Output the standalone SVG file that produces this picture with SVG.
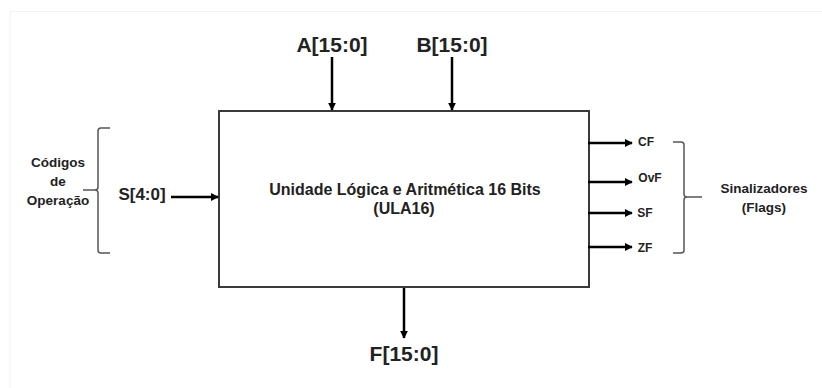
<svg xmlns="http://www.w3.org/2000/svg" width="822" height="388" viewBox="0 0 822 388">
<defs>
<style>
.t{font-family:"Liberation Sans",Arial,sans-serif;font-weight:bold;fill:#222;text-anchor:middle}
.w{stroke:#000;stroke-width:2.5;fill:none}
.b{stroke:#555;stroke-width:1.5;fill:none}
</style>
<marker id="ah" viewBox="0 0 10 10" refX="9" refY="5" markerWidth="3.2" markerHeight="3.2" orient="auto" markerUnits="strokeWidth">
<path d="M0,0 L10,5 L0,10 z" fill="#000"/>
</marker>
</defs>
<rect width="822" height="388" fill="#fff"/>
<path d="M10,388 L10,11.5 L822,11.5" stroke="#f2f2f2" stroke-width="1" fill="none"/>
<g id="alu">
<rect x="219" y="111" width="370" height="176" fill="#fff" stroke="#3a3a3a" stroke-width="2"/>
<text class="t" x="405" y="195" font-size="16">Unidade Lógica e Aritmética 16 Bits</text>
<text class="t" x="404" y="214" font-size="16">(ULA16)</text>
</g>
<g id="inA"><text class="t" x="332" y="52" font-size="21">A[15:0]</text></g>
<g id="inB"><text class="t" x="452" y="52" font-size="21">B[15:0]</text></g>
<g id="outF"><text class="t" x="404" y="361" font-size="21">F[15:0]</text></g>
<g id="inS"><text class="t" x="142" y="200" font-size="17">S[4:0]</text></g>
<g id="opcodes">
<path class="b" d="M110,128 L101,128 Q98,128 98,131 L98,187 Q98,190 95,190 L83,190 M95,190 Q98,190 98,193 L98,250 Q98,253 101,253 L110,253"/>
<text class="t" x="58" y="167" font-size="13.5">Códigos</text>
<text class="t" x="58" y="186" font-size="13.5">de</text>
<text class="t" x="58" y="205" font-size="13.5">Operação</text>
</g>
<g id="flags">
<text class="t" x="646" y="146" font-size="12">CF</text>
<text class="t" x="650" y="182" font-size="12">OvF</text>
<text class="t" x="645" y="217" font-size="12">SF</text>
<text class="t" x="645" y="252" font-size="12">ZF</text>
<path class="b" d="M673,142 L681,142 Q684,142 684,145 L684,194 Q684,197 687,197 L702,197 M687,197 Q684,197 684,200 L684,250 Q684,253 681,253 L673,253"/>
<text class="t" x="764" y="193" font-size="13.5">Sinalizadores</text>
<text class="t" x="764" y="212" font-size="13.5">(Flags)</text>
</g>
<g id="connectors">
<line class="w" x1="332" y1="57" x2="332" y2="110" marker-end="url(#ah)"/>
<line class="w" x1="452" y1="57" x2="452" y2="110" marker-end="url(#ah)"/>
<line class="w" x1="404" y1="288" x2="404" y2="338" marker-end="url(#ah)"/>
<line class="w" x1="171" y1="197" x2="218" y2="197" marker-end="url(#ah)"/>
<line class="w" x1="588" y1="143" x2="632" y2="143" marker-end="url(#ah)"/>
<line class="w" x1="588" y1="182" x2="632" y2="182" marker-end="url(#ah)"/>
<line class="w" x1="588" y1="213" x2="632" y2="213" marker-end="url(#ah)"/>
<line class="w" x1="588" y1="247" x2="632" y2="247" marker-end="url(#ah)"/>
</g>
</svg>
